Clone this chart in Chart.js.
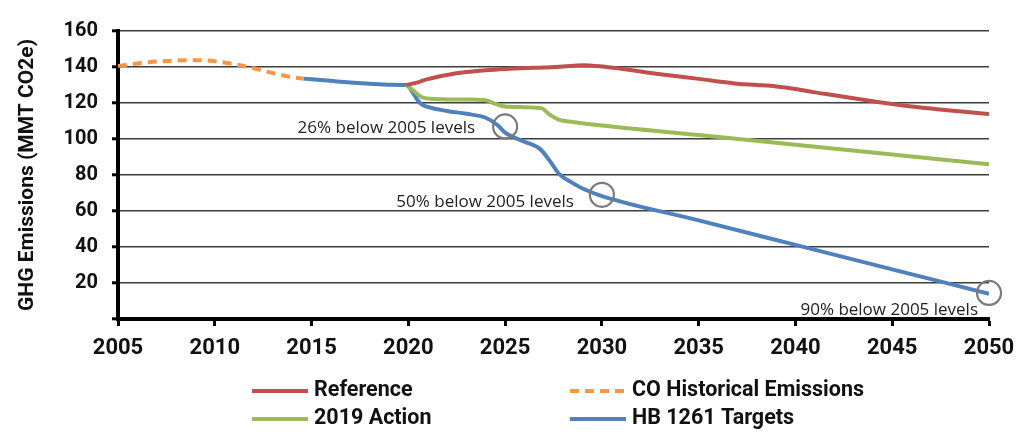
<!DOCTYPE html>
<html>
<head>
<meta charset="utf-8">
<script src="https://cdn.jsdelivr.net/npm/chart.js@4"></script>
<style>
  html, body { margin: 0; padding: 0; background: #ffffff; }
  #wrap { width: 1024px; height: 436px; position: relative; }
</style>
</head>
<body>
<div id="wrap"><canvas id="c" width="1024" height="436"></canvas></div>
<script>
// ---- Data ----
const seriesLabels = ["Reference", "CO Historical Emissions", "2019 Action", "HB 1261 Targets"];

const histYears  = [2005, 2006, 2007, 2008, 2009, 2010, 2011, 2012, 2013, 2014, 2014.6];
const histValues = [140.5, 141.9, 143.0, 143.6, 143.8, 143.2, 141.6, 139.3, 136.6, 134.3, 133.5];

const refYears  = [2019.9, 2020.5, 2021, 2022, 2023, 2024, 2025, 2026, 2027, 2028, 2029, 2030, 2031, 2032, 2033, 2034, 2035, 2036, 2037, 2038, 2039, 2040, 2041, 2042, 2043, 2044, 2045, 2046, 2047, 2048, 2049, 2050];
const refValues = [130.0, 131.5, 133.3, 135.6, 137.2, 138.2, 138.9, 139.4, 139.7, 140.3, 141.0, 140.3, 139.0, 137.5, 136.0, 134.7, 133.4, 132.0, 130.7, 130.0, 129.2, 127.8, 125.9, 124.3, 122.6, 121.0, 119.4, 118.0, 116.9, 115.8, 114.8, 113.9];

const actionYears  = [2019.9, 2020.3, 2020.7, 2021.2, 2022, 2023, 2024, 2024.5, 2025, 2026, 2026.9, 2027.3, 2027.8, 2028.5, 2030, 2035, 2040, 2045, 2050];
const actionValues = [130.0, 126.5, 123.2, 122.3, 122.0, 121.9, 121.5, 119.5, 118.0, 117.7, 117.0, 113.5, 110.6, 109.5, 107.5, 102.2, 96.8, 91.4, 86.0];

const targetYears  = [2014.6, 2015, 2016, 2017, 2018, 2019, 2019.9, 2020.3, 2020.6, 2021, 2022, 2023, 2024, 2024.6, 2025, 2026, 2026.8, 2027.3, 2027.8, 2028.5, 2029, 2030, 2035, 2040, 2045, 2050];
const targetValues = [133.5, 133.2, 132.3, 131.4, 130.7, 130.2, 130.0, 124.5, 120.0, 117.8, 115.6, 114.0, 111.8, 107.8, 103.5, 98.5, 94.5, 88.0, 80.5, 75.5, 72.5, 68.3, 54.8, 41.2, 27.6, 14.0];

const yTicks = [0, 20, 40, 60, 80, 100, 120, 140, 160];
const xTicks = [2005, 2010, 2015, 2020, 2025, 2030, 2035, 2040, 2045, 2050];

const noteLabels = ["26% below 2005 levels", "50% below 2005 levels", "90% below 2005 levels"];
const noteYears  = [2025, 2030, 2050];
const noteValues = [107, 69, 14.5];

// ---- Build datasets ----
function pts(xs, ys) { return xs.map((x, i) => ({ x: x, y: ys[i] })); }

const colors = ["#C0504D", "#F79646", "#9BBB59", "#4F81BD"];
const dashes = [[], [9, 6], [], []];

const datasets = [
  { label: seriesLabels[0], data: pts(refYears, refValues) },
  { label: seriesLabels[1], data: pts(histYears, histValues) },
  { label: seriesLabels[2], data: pts(actionYears, actionValues) },
  { label: seriesLabels[3], data: pts(targetYears, targetValues) }
].map((d, i) => Object.assign(d, {
  borderColor: colors[i],
  backgroundColor: colors[i],
  borderWidth: 4,
  borderDash: dashes[i],
  pointRadius: 0,
  fill: false,
  cubicInterpolationMode: 'monotone'
}));

// ---- Plugins ----
const notesPlugin = {
  id: 'notes',
  afterDatasetsDraw(chart, args, opts) {
    const { ctx, scales: { x, y } } = chart;
    ctx.save();
    ctx.font = '17px "Open Sans"';
    ctx.fillStyle = '#222222';
    ctx.textAlign = 'right';
    ctx.textBaseline = 'middle';
    noteLabels.forEach((lab, i) => {
      const cx = x.getPixelForValue(noteYears[i]);
      const cy = y.getPixelForValue(noteValues[i]);
      ctx.beginPath();
      ctx.strokeStyle = '#7a7a7a';
      ctx.lineWidth = 2.2;
      ctx.arc(cx, cy, 12, 0, Math.PI * 2);
      ctx.stroke();
      const off = opts.offsets[i];
      ctx.fillText(lab, cx + off[0], cy + off[1]);
    });
    ctx.restore();
  }
};

const legendPlugin = {
  id: 'gridLegend',
  afterDraw(chart, args, opts) {
    const { ctx } = chart;
    ctx.save();
    ctx.font = 'bold 21.5px Roboto';
    ctx.textBaseline = 'middle';
    ctx.textAlign = 'left';
    chart.data.datasets.forEach((ds, i) => {
      const col = i % 2, row = Math.floor(i / 2);
      const lx = opts.cols[col], ly = opts.rows[row];
      ctx.beginPath();
      ctx.strokeStyle = ds.borderColor;
      ctx.lineWidth = 4;
      ctx.setLineDash(ds.borderDash || []);
      ctx.moveTo(lx, ly);
      ctx.lineTo(lx + 56, ly);
      ctx.stroke();
      ctx.setLineDash([]);
      ctx.fillStyle = '#111111';
      ctx.fillText(ds.label, lx + 62, ly);
    });
    ctx.restore();
  }
};

new Chart(document.getElementById('c'), {
  type: 'line',
  data: { datasets: datasets },
  options: {
    responsive: false,
    animation: false,
    devicePixelRatio: 1,
    layout: { padding: { top: 31, right: 35, left: 0, bottom: 72 } },
    plugins: {
      legend: { display: false },
      tooltip: { enabled: false },
      notes: { offsets: [[-30, 2], [-28, 7], [-11, 17]] },
      gridLegend: { cols: [252, 570], rows: [391, 419] }
    },
    scales: {
      x: {
        type: 'linear',
        min: 2005, max: 2050,
        afterBuildTicks(scale) { scale.ticks = xTicks.map(v => ({ value: v })); },
        afterFit(scale) { scale.height = 45; },
        ticks: {
          font: { family: 'Roboto', weight: 'bold', size: 22 },
          color: '#111111',
          padding: 9,
          maxRotation: 0,
          callback: v => String(v)
        },
        grid: { drawOnChartArea: false, drawTicks: true, tickLength: 7, tickColor: '#000000', tickWidth: 3 },
        border: { display: true, color: '#000000', width: 4 }
      },
      y: {
        type: 'linear',
        min: 0, max: 160,
        afterBuildTicks(scale) { scale.ticks = yTicks.map(v => ({ value: v })); },
        afterFit(scale) { scale.width = 118; },
        ticks: {
          font: { family: 'Roboto', weight: 'bold', size: 20 },
          color: '#111111',
          padding: 14,
          callback: v => (v === 0 ? '' : String(v))
        },
        grid: { color: '#3c3c3c', lineWidth: 1.6, drawTicks: true, tickLength: 6, tickColor: '#000000', tickWidth: 3 },
        border: { display: true, color: '#000000', width: 4 },
        title: {
          display: true,
          text: 'GHG Emissions (MMT CO2e)',
          font: { family: 'Roboto', weight: 'bold', size: 21 },
          color: '#111111',
          padding: { top: 15, bottom: 0 }
        }
      }
    }
  },
  plugins: [notesPlugin, legendPlugin]
});
</script>
</body>
</html>
